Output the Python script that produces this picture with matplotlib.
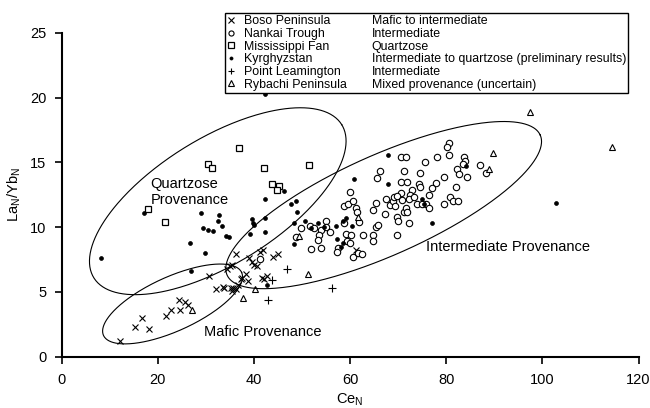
import numpy as np
import matplotlib
matplotlib.use("Agg")
import matplotlib.pyplot as plt
from matplotlib.lines import Line2D

plt.rcParams['font.family'] = ['Liberation Sans', 'DejaVu Sans']
plt.rcParams['mathtext.default'] = 'regular'

# ---------------- data (Ce_N, La_N/Yb_N) ----------------
boso_x = [12.1, 15.2, 16.7, 18.1, 21.7, 22.7, 24.4, 24.6, 25.6, 26.3, 30.6, 32.1,
          33.5, 33.8, 35.2, 35.4, 36.3, 35.6, 36.7, 37.3, 35.4, 35.0, 34.4, 36.3,
          38.3, 37.5, 38.8, 39.0, 39.6, 40.0, 40.6, 41.9, 41.3, 45.0, 44.0, 41.7,
          42.1, 42.7, 61.3]
boso_y = [1.2, 2.3, 3.0, 2.1, 3.1, 3.6, 4.4, 3.6, 4.2, 4.0, 6.2, 5.2,
          5.4, 5.3, 5.3, 5.1, 5.2, 5.3, 5.5, 6.0, 7.1, 7.0, 6.8, 7.9,
          6.4, 6.1, 5.8, 7.6, 7.3, 7.1, 7.0, 8.2, 8.1, 7.9, 7.7, 6.1,
          6.0, 6.2, 8.2]

nankai_x = [60.0, 58.8, 59.6, 60.6, 61.3, 61.5, 61.9, 55.0, 51.7, 52.5, 54.0, 55.0,
            55.8, 49.8, 48.8, 53.5, 53.3, 54.0, 51.9, 58.8, 59.2, 60.2, 59.4, 60.0,
            57.5, 57.3, 60.6, 61.7, 62.5, 62.7, 64.8, 64.8, 65.4, 65.8, 64.8, 65.4,
            67.5, 67.3, 68.3, 69.0, 69.4, 69.8, 69.8,
            80.6, 80.2, 80.6, 70.6, 71.7, 75.6, 78.1, 83.8, 84.0, 83.5, 87.1, 88.3,
            71.3, 74.6, 82.3, 82.7, 84.4, 79.6, 70.6, 71.9, 74.4, 74.6, 77.9, 77.1,
            82.1, 72.9, 72.5, 70.6, 69.2, 69.8, 70.8, 72.3, 73.3, 76.5, 75.8, 76.5,
            74.0, 75.0, 79.6, 80.8, 81.5, 82.5, 71.3, 71.7, 71.9, 70.0, 72.3, 66.3,
            65.6, 41.3]
nankai_y = [12.7, 11.6, 11.8, 12.0, 11.5, 11.2, 10.4, 10.5, 10.1, 9.9, 9.8, 10.0,
            9.6, 9.9, 9.2, 9.4, 9.0, 8.4, 8.3, 10.3, 9.5, 9.4, 8.9, 8.8,
            8.4, 8.1, 7.7, 8.0, 7.9, 9.4, 9.4, 8.9, 10.0, 10.2, 11.3, 11.9,
            12.2, 11.0, 11.7, 12.0, 11.6, 10.8, 9.4,
            16.5, 16.2, 15.6, 15.4, 15.4, 15.0, 15.4, 15.4, 15.1, 14.9, 14.8, 14.2,
            14.3, 14.2, 14.5, 14.1, 13.9, 13.9, 13.5, 13.5, 13.3, 13.1, 13.4, 13.0,
            13.1, 12.9, 12.5, 12.6, 12.3, 12.4, 12.1, 12.2, 12.3, 12.5, 11.8, 11.5,
            11.8, 11.8, 11.8, 12.3, 12.0, 12.0, 11.2, 11.5, 11.2, 10.5, 10.3, 14.3,
            13.8, 7.5]

miss_x = [36.9, 30.4, 31.3, 42.1, 51.5, 43.8, 45.2, 44.8, 17.9, 21.5]
miss_y = [16.1, 14.9, 14.6, 14.6, 14.8, 13.3, 13.2, 12.9, 11.4, 10.4]

kyr_x = [8.3, 17.1, 42.3, 46.3, 42.3, 48.8, 47.7, 29.0, 32.7, 32.5, 33.3, 29.4,
         30.4, 31.5, 34.2, 34.8, 26.7, 39.6, 39.8, 40.0, 42.3, 39.2, 49.0, 48.3,
         29.8, 26.9, 42.7, 42.3, 48.3, 50.6, 51.9, 53.3, 54.6, 57.1, 58.5, 59.2,
         60.4, 57.3, 58.5, 58.1, 67.9, 60.8, 67.9, 75.0, 75.4, 77.1, 84.2, 102.9]
kyr_y = [7.6, 11.1, 20.3, 12.8, 12.2, 12.0, 11.8, 11.1, 10.9, 10.5, 10.1, 9.9,
         9.8, 9.7, 9.3, 9.2, 8.8, 10.6, 10.3, 10.2, 10.7, 9.5, 11.2, 10.3,
         8.0, 6.6, 5.5, 9.6, 8.7, 10.5, 9.9, 10.3, 10.0, 10.1, 10.5, 10.7,
         10.1, 9.1, 8.8, 8.5, 15.6, 13.7, 13.3, 12.2, 11.8, 10.3, 14.7, 11.9]

leam_x = [43.8, 42.9, 46.9, 56.3]
leam_y = [5.9, 4.4, 6.8, 5.3]

ryb_x = [27.1, 37.7, 40.2, 51.3, 61.7, 49.4, 97.5, 114.4, 89.8, 89.0]
ryb_y = [3.6, 4.5, 5.2, 6.4, 10.8, 9.3, 18.9, 16.2, 15.7, 14.5]

sites = ["Boso Peninsula", "Nankai Trough", "Mississippi Fan", "Kyrghyzstan",
         "Point Leamington", "Rybachi Peninsula"]
provenance = ["Mafic to intermediate", "Intermediate", "Quartzose",
              "Intermediate to quartzose (preliminary results)", "Intermediate",
              "Mixed provenance (uncertain)"]

x_ticks = [0, 20, 40, 60, 80, 100, 120]
y_ticks = [0, 5, 10, 15, 20, 25]

# ellipses: centre (data), semi-axes (display px), angle (deg, display)
ellipses = [
    (67.0, 11.7, 171.5, 50.0, 24.1),   # intermediate
    (32.5, 12.0, 145.7, 63.0, 31.7),   # quartzose
    (23.1, 4.06, 75.9, 27.0, 24.5),    # mafic
]

# ---------------- figure ----------------
fig = plt.figure(figsize=(6.5, 4.08), dpi=100)
ax = fig.add_axes([61.5/650, 51.5/408, 577/650, 323.5/408])
ax.set_xlim(0, 120)
ax.set_ylim(0, 25)

ms = 4.6
mkw = dict(linestyle='none', color='black')
h_boso, = ax.plot(boso_x, boso_y, marker='x', markersize=ms, markeredgewidth=0.8, **mkw)
h_nan, = ax.plot(nankai_x, nankai_y, marker='o', markersize=ms, markerfacecolor='white',
                 markeredgewidth=0.8, **mkw)
h_mis, = ax.plot(miss_x, miss_y, marker='s', markersize=ms + 0.4, markerfacecolor='white',
                 markeredgewidth=0.9, **mkw)
h_kyr, = ax.plot(kyr_x, kyr_y, marker='o', markersize=2.8, markeredgewidth=0.5, **mkw)
h_lea, = ax.plot(leam_x, leam_y, marker='+', markersize=ms + 0.6, markeredgewidth=0.8, **mkw)
h_ryb, = ax.plot(ryb_x, ryb_y, marker='^', markersize=ms, markerfacecolor='white',
                 markeredgewidth=0.8, **mkw)

# ellipses
bbox = ax.get_window_extent()
sx = bbox.width / 120.0
sy = bbox.height / 25.0
t = np.linspace(0, 2 * np.pi, 400)
for cx, cy, a, b, ang in ellipses:
    th = np.deg2rad(ang)
    ex = cx + (a * np.cos(t) * np.cos(th) - b * np.sin(t) * np.sin(th)) / sx
    ey = cy + (a * np.cos(t) * np.sin(th) + b * np.sin(t) * np.cos(th)) / sy
    ax.plot(ex, ey, color='black', linewidth=0.8, clip_on=False)

ax.text(18.5, 13.85, "Quartzose\nProvenance", fontsize=10.5, ha='left', va='top',
        linespacing=1.2)
ax.text(75.8, 8.44, "Intermediate Provenance", fontsize=10.5, ha='left', va='center')
ax.text(29.6, 1.86, "Mafic Provenance", fontsize=10.5, ha='left', va='center')

# axes styling
for s in ['top', 'right']:
    ax.spines[s].set_visible(False)
for s in ['left', 'bottom']:
    ax.spines[s].set_linewidth(1.5)
ax.set_xticks(x_ticks)
ax.set_yticks(y_ticks)
ax.tick_params(direction='out', length=5, width=1.2, labelsize=10.5)
ax.tick_params(axis='x', pad=7)
ax.tick_params(axis='y', pad=6)
ax.set_xlabel("Ce$_N$", fontsize=10.5, labelpad=3)
ax.set_ylabel("La$_N$/Yb$_N$", fontsize=10.5, labelpad=5)

# legend with two text columns
blank = Line2D([], [], linestyle='none', marker=None)
handles = [h_boso, h_nan, h_mis, h_kyr, h_lea, h_ryb] + [blank] * 6
labels = sites + provenance
leg = fig.legend(handles, labels, ncol=2, loc='upper left',
                 bbox_to_anchor=(225 / 650, 1 - 13 / 408),
                 borderaxespad=0, fontsize=8.9, frameon=True, fancybox=False,
                 edgecolor='black', framealpha=1, handlelength=0.5, handletextpad=0.83,
                 columnspacing=0.68, labelspacing=0.05, borderpad=0.2, markerscale=0.8)
leg.get_frame().set_linewidth(1.0)

fig.savefig("out.png", dpi=100)
